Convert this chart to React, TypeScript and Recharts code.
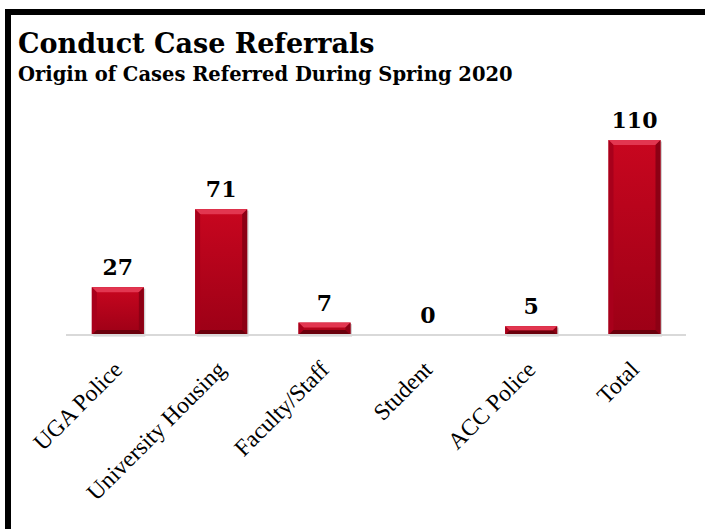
import { BarChart, Bar, XAxis, YAxis, LabelList } from 'recharts';

const CATEGORIES = ['UGA Police', 'University Housing', 'Faculty/Staff', 'Student', 'ACC Police', 'Total'];
const CASES = [27, 71, 7, 0, 5, 110];
const Y_DOMAIN = [0, 110];

const data = CATEGORIES.map((name, i) => ({ name, cases: CASES[i] }));

// red bar with a bevelled edge, roughly like the Office "bevel" effect
function BevelBar(props: any) {
  const { x, y, width, height } = props;
  if (!height || height <= 0) return null;
  const b = Math.min(5, height / 2, width / 2);
  const r = x + width;
  const btm = y + height;
  return (
    <g>
      <rect x={x + 1.5} y={y + 1.5} width={width} height={height} fill="rgba(0,0,0,0.18)" />
      <rect x={x} y={y} width={width} height={height} fill="url(#barFace)" />
      <polygon points={`${x},${y} ${r},${y} ${r - b},${y + b} ${x + b},${y + b}`} fill="#e23650" />
      <polygon points={`${x},${y} ${x + b},${y + b} ${x + b},${btm - b} ${x},${btm}`} fill="#a8001b" />
      <polygon points={`${r},${y} ${r},${btm} ${r - b},${btm - b} ${r - b},${y + b}`} fill="#8c0014" />
      <polygon points={`${x},${btm} ${r},${btm} ${r - b},${btm - b} ${x + b},${btm - b}`} fill="#6a000c" />
    </g>
  );
}

function SlantTick(props: any) {
  const { x, y, payload } = props;
  const ax = x + 6;
  const ay = y + 36;
  return (
    <text
      x={ax}
      y={ay}
      transform={`rotate(-45 ${ax} ${ay})`}
      textAnchor="end"
      fontFamily="'Liberation Serif', serif"
      fontSize={23.5}
      fill="#000"
    >
      {payload.value}
    </text>
  );
}

export default function App() {
  return (
    <div style={{ position: 'absolute', top: 0, left: 0, width: 705, height: 529, background: '#fff', overflow: 'hidden' }}>
      {/* black frame, only top and left edges show */}
      <div
        style={{
          position: 'absolute',
          left: 5,
          top: 9,
          width: 800,
          height: 600,
          borderTop: '6px solid #000',
          borderLeft: '6px solid #000',
        }}
      />
      <div style={{ position: 'absolute', left: 18, top: 27, fontFamily: "'DejaVu Serif', serif", fontWeight: 'bold', color: '#000' }}>
        <div style={{ fontSize: 27, lineHeight: '33px' }}>Conduct Case Referrals</div>
        <div style={{ fontSize: 19.5, lineHeight: '24px', marginTop: 3 }}>Origin of Cases Referred During Spring 2020</div>
      </div>
      <div style={{ position: 'absolute', left: 0, top: 0 }}>
        <BarChart
          width={705}
          height={529}
          data={data}
          margin={{ top: 140, right: 19, left: 66, bottom: 134 }}
          barCategoryGap="25%"
        >
          <defs>
            <linearGradient id="barFace" x1="0" y1="0" x2="0" y2="1">
              <stop offset="0%" stopColor="#c8061f" />
              <stop offset="100%" stopColor="#9c0016" />
            </linearGradient>
          </defs>
          <YAxis hide domain={Y_DOMAIN} />
          <XAxis
            dataKey="name"
            height={60}
            interval={0}
            tickLine={false}
            tickSize={0}
            tickMargin={0}
            axisLine={{ stroke: '#d9d9d9', strokeWidth: 2 }}
            tick={<SlantTick />}
          />
          <Bar dataKey="cases" shape={<BevelBar />} isAnimationActive={false}>
            <LabelList
              dataKey="cases"
              position="top"
              offset={12}
              style={{ fontFamily: "'DejaVu Serif', serif", fontWeight: 'bold', fontSize: 22, fill: '#000' }}
            />
          </Bar>
        </BarChart>
      </div>
    </div>
  );
}
